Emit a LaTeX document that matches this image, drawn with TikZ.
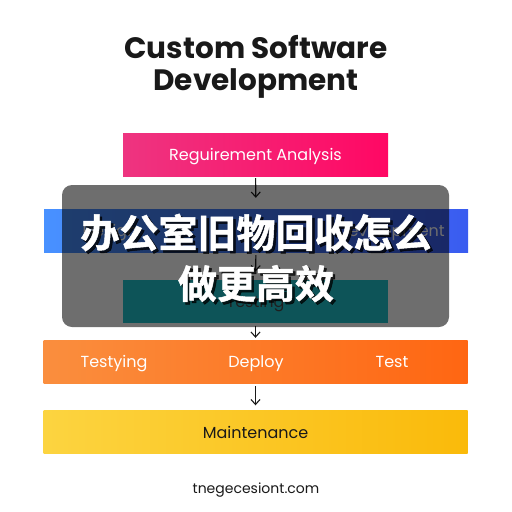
\documentclass[tikz,border=0pt]{standalone}
\usepackage{fontspec}
\setmainfont{Poppins}
\newfontfamily\cjk{Noto Sans CJK SC}[BoldFont={Noto Sans CJK SC Bold},BoldFeatures={FakeBold=1.3}]
\usepackage{tikz}
\usetikzlibrary{arrows.meta,positioning,shadows}
\definecolor{pinkL}{RGB}{238,52,128}
\definecolor{pinkR}{RGB}{255,8,100}
\definecolor{blueL}{RGB}{72,145,255}
\definecolor{blueR}{RGB}{58,92,240}
\definecolor{tealC}{RGB}{32,196,206}
\definecolor{orangeL}{RGB}{250,142,62}
\definecolor{orangeR}{RGB}{255,102,18}
\definecolor{yellowL}{RGB}{252,212,64}
\definecolor{yellowR}{RGB}{250,186,10}
\definecolor{ink}{RGB}{25,25,25}

\begin{document}
\begin{tikzpicture}[x=1pt,y=-1pt,
  stage/.style={minimum height=43pt,inner sep=0pt,text height=14pt,text depth=2pt,
    font=\fontsize{16}{18}\selectfont},
  narrow/.style={stage,minimum width=265pt},
  wide/.style={stage,minimum width=424pt},
  flow/.style={-{Straight Barb[length=5pt,width=9pt]},line width=1.1pt,ink},
  hint/.style={font=\fontsize{16}{18}\selectfont,text height=14pt,text depth=2pt},
  banner/.style={font=\cjk\bfseries\fontsize{39}{51}\selectfont,align=center},
]
  \useasboundingbox[fill=white] (0,0) rectangle (512,512);

  % title
  \node[font=\fontsize{29.5}{32}\selectfont\bfseries,align=center,ink] (title) at (256,67)
    {Custom Software\\Development};

  % stages
  \node[narrow,left color=pinkL,right color=pinkR,text=white] (req) at (255.5,154.5) {Reguirement Analysis};
  \node[wide,left color=blueL,right color=blueR] (dev) at (256,230.5) {};
  \node[hint,text=white] (design) at (110,230.5) {Design};
  \node[hint,text=white] (devel) at (391,230.5) {Development};
  \node[narrow,fill=tealC,text=ink!80] (test) at (255.5,301) {Testing};
  \node[wide,left color=orangeL,right color=orangeR] (ops) at (255.5,361.5) {};
  \node[hint,text=white] (testying) at (114,361.5) {Testying};
  \node[hint,text=white] (deploy) at (256,361.5) {Deploy};
  \node[hint,text=white] (testb) at (392,361.5) {Test};
  \node[wide,left color=yellowL,right color=yellowR,text=ink] (maint) at (255.5,432) {Maintenance};

  \draw[flow,shorten <=2pt,shorten >=11pt] (req) -- (dev);
  \draw[flow,shorten <=3pt,shorten >=8pt] (dev) -- (test);
  \draw[flow,shorten <=3pt,shorten >=2pt] (test) -- (ops);
  \draw[flow,shorten <=3pt,shorten >=5pt] (ops) -- (maint);

  \node[font=\fontsize{14}{16}\selectfont,ink] (site) at (256,490) {tnegecesiont.com};

  % overlay banner
  \fill[black,opacity=0.57,rounded corners=10pt] (62,185) rectangle (449,327);
  \node[banner,text=black,opacity=0.75] (shade) at (258.5,260.5)
    {办公室旧物回收怎么\\做更高效};
  \node[banner,text=white] (title2) at (256,258)
    {办公室旧物回收怎么\\做更高效};
\end{tikzpicture}
\end{document}
